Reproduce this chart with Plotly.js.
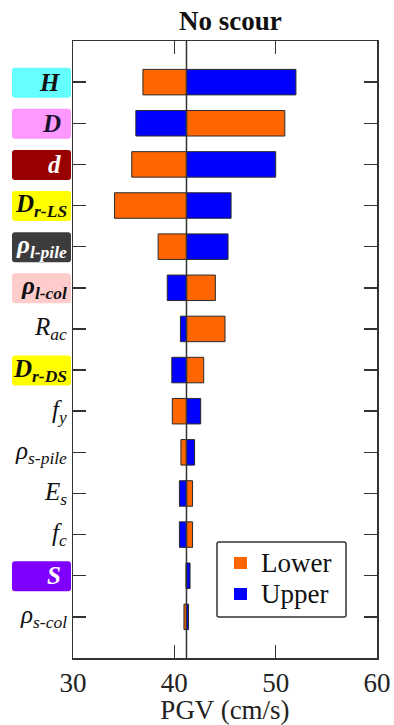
<!DOCTYPE html>
<html>
<head>
<meta charset="utf-8">
<script src="https://cdn.plot.ly/plotly-3.0.1.min.js"></script>
<style>html,body{margin:0;padding:0;background:#fff;}#chart{width:394px;height:725px;}</style>
</head>
<body>
<div id="chart"></div>
<script>
// ---- data ----
const categories = ['H','D','d','D<sub>r-LS</sub>','ρ<sub>l-pile</sub>','ρ<sub>l-col</sub>','R<sub>ac</sub>','D<sub>r-DS</sub>','f<sub>y</sub>','ρ<sub>s-pile</sub>','E<sub>s</sub>','f<sub>c</sub>','S','ρ<sub>s-col</sub>'];
const lowerValues = [36.9, 50.9, 35.8, 34.1, 38.4, 44.05, 45.0, 42.9, 39.8, 40.65, 41.8, 41.8, 41.15, 40.95];
const upperValues = [52.0, 36.2, 50.0, 45.6, 45.3, 39.3, 40.6, 39.75, 42.6, 42.0, 40.5, 40.5, 41.55, 41.4];
const baselineValue = 41.2;
const xTicks = [30, 40, 50, 60];
const seriesNames = ['Lower', 'Upper'];

// ---- label styles (box colour, text colour, bold, xshift) ----
const labelStyles = [
  {bg:'#66FFFF', fc:'#111', bold:true, shift:-6},
  {bg:'#FF99FF', fc:'#1a1030', bold:true, shift:-6},
  {bg:'#990000', fc:'#ffffff', bold:true, shift:-6},
  {bg:'#FFFF00', fc:'#111', bold:true, shift:0},
  {bg:'#3C3C3C', fc:'#ffffff', bold:true, shift:0},
  {bg:'#FFCCCC', fc:'#111', bold:true, shift:0},
  {bg:null, fc:'#111', bold:false, shift:0},
  {bg:'#FFFF00', fc:'#111', bold:true, shift:0},
  {bg:null, fc:'#111', bold:false, shift:0},
  {bg:null, fc:'#111', bold:false, shift:0},
  {bg:null, fc:'#111', bold:false, shift:0},
  {bg:null, fc:'#111', bold:false, shift:0},
  {bg:'#7F00FF', fc:'#ffffff', bold:true, shift:-6},
  {bg:null, fc:'#111', bold:false, shift:0}
];
const seriesColors = ['#FF6600', '#0000FF'];

const FONT = 'Liberation Serif';
const idx = categories.map((_, i) => i);
const W = 394, H = 725;
const mL = 73, mR = 17, mT = 41, mB = 67;
const plotW = W - mL - mR, plotH = H - mT - mB;
const yUnits = 15; // range [-1, 14]
const pxPerY = plotH / yUnits;

function makeTrace(vals, k) {
  return {
    type: 'bar', orientation: 'h', name: seriesNames[k],
    y: idx, base: vals.map(() => baselineValue),
    x: vals.map(v => v - baselineValue),
    width: 0.62, showlegend: false,
    marker: {color: seriesColors[k], line: {color: '#2a2a2a', width: 1}},
    hoverinfo: 'skip'
  };
}

const shapes = [];
const annotations = [];
const px2x = p => (p - mL) / plotW;           // page px -> paper x
const py2y = p => (H - mB - p) / plotH;        // page px -> paper y
function roundRect(x0, y0, x1, y1, rx, ry) {
  return `M ${x0 + rx},${y0} L ${x1 - rx},${y0} Q ${x1},${y0} ${x1},${y0 + ry} ` +
    `L ${x1},${y1 - ry} Q ${x1},${y1} ${x1 - rx},${y1} L ${x0 + rx},${y1} ` +
    `Q ${x0},${y1} ${x0},${y1 - ry} L ${x0},${y0 + ry} Q ${x0},${y0} ${x0 + rx},${y0} Z`;
}
// label boxes
const boxX0 = px2x(12), boxX1 = px2x(71);
const boxHalf = 15 / pxPerY;
categories.forEach((c, i) => {
  const st = labelStyles[i];
  if (st.bg) {
    const yc = i + 0.5 / pxPerY;
    shapes.push({type: 'path', xref: 'paper', yref: 'y',
      path: roundRect(boxX0, yc - boxHalf, boxX1, yc + boxHalf, 3 / plotW, 3 / pxPerY),
      fillcolor: st.bg, line: {width: 0}, layer: 'below'});
  }
  let t = '<i>' + c + '</i>';
  if (st.bold) t = '<b>' + t + '</b>';
  annotations.push({
    xref: 'paper', yref: 'y', x: px2x(69), y: i, xanchor: 'right', yanchor: 'middle',
    xshift: st.shift, text: t, showarrow: false,
    font: {family: FONT, size: 25, color: st.fc}
  });
});
// baseline line
shapes.push({type: 'line', xref: 'x', yref: 'paper', x0: baselineValue, x1: baselineValue, y0: 0, y1: 1,
  line: {color: '#333', width: 1.5}, layer: 'above'});

// custom legend
const lg = {x0: 217, x1: 346, y0: 542, y1: 617};
shapes.push({type: 'path', xref: 'paper', yref: 'paper',
  path: roundRect(px2x(lg.x0), py2y(lg.y1), px2x(lg.x1), py2y(lg.y0), 2 / plotW, 2 / plotH),
  fillcolor: '#fff', line: {color: '#333', width: 1.5}, layer: 'above'});
const rowY = [563, 594];
seriesNames.forEach((n, k) => {
  shapes.push({type: 'rect', xref: 'paper', yref: 'paper',
    x0: px2x(234), x1: px2x(247), y0: py2y(rowY[k] + 6), y1: py2y(rowY[k] - 6),
    fillcolor: seriesColors[k], line: {width: 0}, layer: 'above'});
  annotations.push({xref: 'paper', yref: 'paper', x: px2x(259), y: py2y(rowY[k]),
    xanchor: 'left', yanchor: 'middle', text: n, showarrow: false,
    font: {family: FONT, size: 27, color: '#111'}});
});

const layout = {
  width: W, height: H,
  margin: {l: mL, r: mR, t: mT, b: mB},
  paper_bgcolor: '#fff', plot_bgcolor: '#fff',
  barmode: 'overlay', showlegend: false,
  font: {family: FONT, size: 26, color: '#222'},
  title: {text: '<b>No scour</b>', font: {family: FONT, size: 27, color: '#111'},
    xref: 'paper', x: 0.518, xanchor: 'center', yref: 'container', y: 1 - 21 / H, yanchor: 'middle'},
  xaxis: {
    range: [30, 60], tickvals: xTicks, ticktext: xTicks.map(String),
    ticks: 'inside', ticklen: 13, tickwidth: 1.5, tickcolor: '#333',
    showline: true, linecolor: '#333', linewidth: 1.5, mirror: 'ticks',
    showgrid: false, zeroline: false,
    tickfont: {family: FONT, size: 27, color: '#222'},
    title: {text: 'PGV (cm/s)', font: {family: FONT, size: 27, color: '#222'}, standoff: 4}
  },
  yaxis: {
    range: [14, -1], tickvals: idx, showticklabels: false,
    ticks: 'inside', ticklen: 13, tickwidth: 1.5, tickcolor: '#333',
    showline: true, linecolor: '#333', linewidth: 1.5, mirror: 'ticks',
    showgrid: false, zeroline: false
  },
  shapes: shapes,
  annotations: annotations
};

Plotly.newPlot('chart', [makeTrace(lowerValues, 0), makeTrace(upperValues, 1)], layout, {displayModeBar: false, staticPlot: true});
</script>
</body>
</html>
